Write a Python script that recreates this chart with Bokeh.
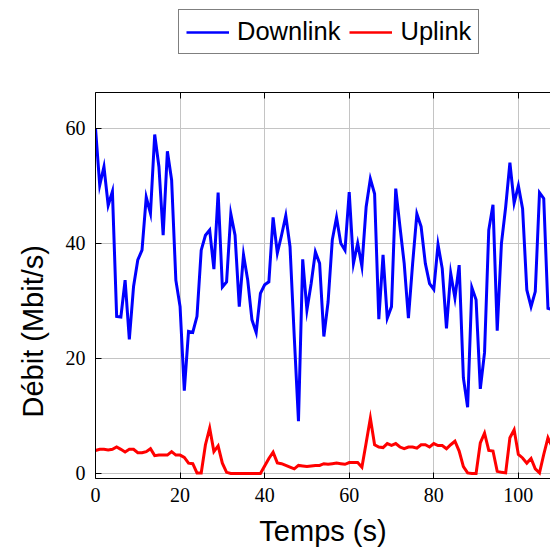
from bokeh.plotting import figure
from bokeh.layouts import column
from bokeh.models import Range1d, LinearAxis, FixedTicker, Legend, LegendItem, Title
from bokeh.embed import file_html
from bokeh.resources import INLINE

# Throughput samples, one per second
time_s = list(range(0, 109))
downlink = [
    60.0, 50.1, 53.3, 46.6, 49.0, 27.3, 27.2, 33.6, 23.3, 32.5,
    37.1, 38.8, 48.0, 45.2, 58.9, 53.3, 41.4, 56.0, 51.0, 33.6,
    29.0, 14.4, 24.7, 24.5, 27.3, 38.8, 41.4, 42.3, 35.5, 48.8,
    32.4, 33.3, 45.1, 41.4, 29.0, 38.0, 33.6, 26.7, 24.5, 31.3,
    32.8, 33.3, 44.5, 38.3, 41.4, 44.8, 39.4, 23.8, 9.1, 37.2,
    28.4, 33.0, 38.5, 36.5, 23.8, 29.8, 40.6, 44.5, 40.0, 38.8,
    48.9, 36.5, 40.0, 36.0, 46.3, 51.2, 48.6, 26.8, 38.0, 27.0,
    29.0, 49.5, 42.9, 36.5, 27.0, 36.5, 45.1, 42.9, 36.5, 33.0,
    32.0, 39.8, 35.6, 25.2, 34.8, 30.5, 36.2, 16.6, 11.5, 32.3,
    30.2, 14.7, 21.0, 42.3, 46.7, 24.8, 40.0, 46.3, 54.0, 47.0,
    50.0, 46.0, 31.9, 29.0, 31.6, 48.8, 47.8, 28.7, 28.5,
]
uplink = [
    4.0, 4.2, 4.2, 4.1, 4.2, 4.6, 4.2, 3.75, 4.2, 4.2,
    3.6, 3.6, 3.8, 4.3, 3.1, 3.2, 3.2, 3.2, 3.8, 3.2,
    3.2, 2.8, 1.8, 1.7, 0.1, 0.1, 5.0, 7.9, 3.8, 4.8,
    1.8, 0.2, 0.0, 0.0, 0.0, 0.0, 0.0, 0.0, 0.0, 0.0,
    1.3, 2.6, 3.7, 1.85, 1.7, 1.4, 1.1, 0.8, 1.4, 1.3,
    1.2, 1.3, 1.4, 1.4, 1.7, 1.6, 1.7, 1.8, 1.7, 1.6,
    1.9, 1.9, 1.9, 1.1, 5.3, 9.6, 5.0, 4.6, 4.5, 5.2,
    4.9, 5.2, 4.6, 4.3, 4.6, 4.6, 4.4, 5.0, 5.0, 4.6,
    5.2, 4.85, 4.85, 4.3, 5.0, 5.6, 3.9, 1.2, 0.1, 0.0,
    0.0, 5.3, 7.0, 4.0, 3.9, 0.4, 0.2, 0.1, 6.2, 7.6,
    3.3, 2.7, 1.8, 2.6, 0.8, 0.1, 3.3, 6.2, 4.6,
]
x_ticks = [0, 20, 40, 60, 80, 100]
y_ticks = [0, 20, 40, 60]
series_names = ["Downlink", "Uplink"]
series_colors = ["#0000ff", "#ff0000"]
series_values = [downlink, uplink]

tick_font = "Liberation Serif"
label_font = "Liberation Sans"

# ---- main chart ----
p = figure(
    width=550, height=461,
    output_backend="svg", toolbar_location=None,
    x_range=Range1d(0, 107.6), y_range=Range1d(-0.87, 66.2),
    min_border_left=94, min_border_right=0,
    min_border_bottom=70, min_border_top=4,
)
p.outline_line_color = None
p.background_fill_color = "white"
p.border_fill_color = "white"

for ax in (p.xaxis[0], p.yaxis[0]):
    ax.major_label_text_font = tick_font
    ax.major_label_text_font_size = "20px"
    ax.major_label_text_color = "black"
    ax.axis_label_text_font = label_font
    ax.axis_label_text_font_size = "29px"
    ax.axis_label_text_font_style = "normal"
    ax.axis_label_text_color = "black"
    ax.axis_line_color = "black"
    ax.axis_line_width = 1
    ax.major_tick_in = 6
    ax.major_tick_out = 0
    ax.major_tick_line_color = "black"
    ax.minor_tick_line_color = None

p.xaxis[0].ticker = FixedTicker(ticks=x_ticks)
p.yaxis[0].ticker = FixedTicker(ticks=y_ticks)
p.xaxis[0].axis_label = "Temps (s)"
p.xaxis[0].major_label_standoff = 9
p.xaxis[0].axis_label_standoff = 10
p.yaxis[0].major_label_standoff = 10

# y title as a side title, anchored from the bottom of the axis
y_title = Title(
    text="Débit (Mbit/s)",
    align="left",
    offset=61,
    standoff=28,
    text_font=label_font,
    text_font_size="29px",
    text_font_style="normal",
    text_color="black",
)
p.add_layout(y_title, "left")

# top border with inward ticks only
top_axis = LinearAxis(
    ticker=FixedTicker(ticks=x_ticks),
    major_label_overrides={t: " " for t in x_ticks},
    major_label_text_font_size="1px",
    major_label_text_alpha=0,
    major_label_standoff=0,
    major_tick_in=6, major_tick_out=0,
    major_tick_line_color="black",
    minor_tick_line_color=None,
    axis_line_color="black",
)
p.add_layout(top_axis, "above")

p.xgrid.ticker = FixedTicker(ticks=x_ticks)
p.ygrid.ticker = FixedTicker(ticks=y_ticks)
for g in (p.xgrid, p.ygrid):
    g.grid_line_color = "#c4c4c4"
    g.grid_line_width = 1

for vals, c in zip(series_values, series_colors):
    p.line(time_s, vals, line_color=c, line_width=3, line_join="miter")

# ---- legend strip above the chart ----
# its ranges sit left of every sample, so only the legend swatches show
lg = figure(
    width=550, height=88,
    output_backend="svg", toolbar_location=None,
    x_range=Range1d(-20, -10), y_range=Range1d(0, 1),
    x_axis_location=None, y_axis_location=None,
    min_border=0,
)
lg.grid.visible = False
lg.outline_line_color = None
lg.background_fill_color = "white"
lg.border_fill_color = "white"

swatches = [
    lg.line(time_s, vals, line_color=c, line_width=2.6)
    for vals, c in zip(series_values, series_colors)
]
# the strip's frame is aligned with the chart frame (left edge at 94 px)
legend = Legend(
    items=[LegendItem(label=n, renderers=[r]) for n, r in zip(series_names, swatches)],
    orientation="horizontal",
    location=(83, 34),
    label_text_font=label_font,
    label_text_font_size="25.5px",
    label_text_color="black",
    glyph_width=43,
    glyph_height=20,
    label_height=20,
    label_standoff=8,
    spacing=9,
    padding=7,
    margin=0,
    border_line_color="black",
    border_line_width=1,
    background_fill_color="white",
    background_fill_alpha=1,
)
lg.add_layout(legend, "center")

layout = column(lg, p, spacing=0)
open("out.html", "w").write(file_html(layout, INLINE))
